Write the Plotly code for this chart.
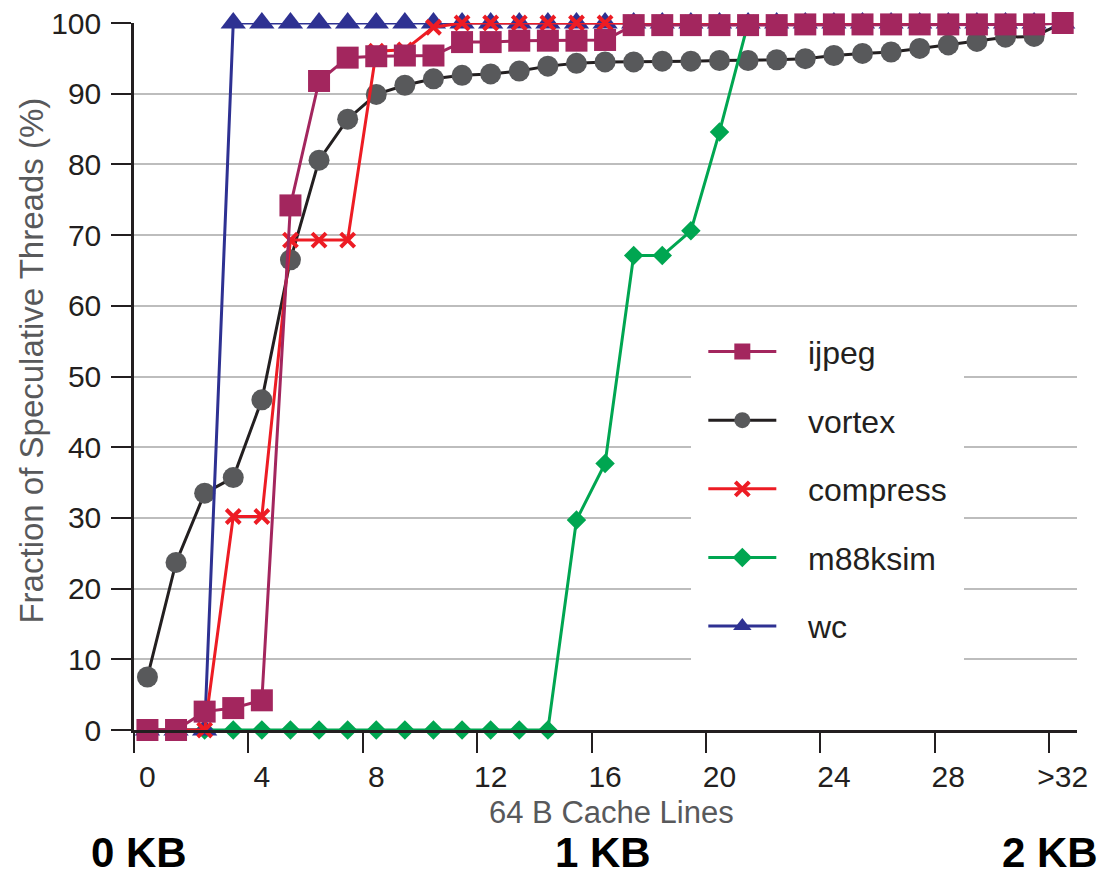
import plotly.graph_objects as go

cache_lines = list(range(33))
tick_positions = [0, 4, 8, 12, 16, 20, 24, 28, 32]
tick_labels = ["0", "4", "8", "12", "16", "20", "24", "28", ">32"]
boundary_ticks = [-0.47, 3.53, 7.53, 11.53, 15.53, 19.53, 23.53, 27.53, 31.53]

ijpeg = [0, 0, 2.6, 3.1, 4.2, 74.2, 91.8, 95.1, 95.3, 95.4, 95.4, 97.3, 97.3,
         97.5, 97.5, 97.5, 97.6, 99.7, 99.7, 99.7, 99.7, 99.7, 99.7, 99.8,
         99.8, 99.8, 99.8, 99.8, 99.8, 99.8, 99.8, 99.8, 100]
vortex = [7.5, 23.7, 33.5, 35.7, 46.7, 66.5, 80.6, 86.4, 89.9, 91.2, 92.1,
          92.6, 92.8, 93.2, 93.9, 94.3, 94.5, 94.5, 94.6, 94.6, 94.7, 94.7,
          94.8, 94.95, 95.4, 95.7, 95.9, 96.4, 96.9, 97.4, 98.0, 98.1, 100]
compress = [0, 0, 0, 30.2, 30.2, 69.3, 69.3, 69.3, 96.0, 96.2, 99.4, 100,
            100, 100, 100, 100, 100, 100, 100, 100, 100, 100, 100, 100, 100,
            100, 100, 100, 100, 100, 100, 100, 100]
m88ksim = [0, 0, 0, 0, 0, 0, 0, 0, 0, 0, 0, 0, 0, 0, 0, 29.7, 37.7, 67.1,
           67.1, 70.6, 84.6, 100, 100, 100, 100, 100, 100, 100, 100, 100, 100,
           100, 100]
wc = [0, 0, 0, 100, 100, 100, 100, 100, 100, 100, 100, 100, 100, 100, 100,
      100, 100, 100, 100, 100, 100, 100, 100, 100, 100, 100, 100, 100, 100,
      100, 100, 100, 100]

TXT = "#231F20"
GREY = "#58595B"
FONT = "Liberation Sans, Arial, sans-serif"
PAD = "\u00a0\u00a0\u00a0"

fig = go.Figure()

fig.add_trace(go.Scatter(
    x=cache_lines, y=vortex, name=PAD + "vortex", mode="lines+markers",
    line=dict(color=TXT, width=3),
    marker=dict(symbol="circle", size=21, color=GREY),
    cliponaxis=False, legendrank=2, legendgroup="b"))
fig.add_trace(go.Scatter(
    x=cache_lines, y=m88ksim, name=PAD + "m88ksim", mode="lines+markers",
    line=dict(color="#00A651", width=3),
    marker=dict(symbol="diamond", size=15, color="#00A651"),
    cliponaxis=False, legendrank=4, legendgroup="d"))
fig.add_trace(go.Scatter(
    x=cache_lines, y=wc, name=PAD + "wc", mode="lines+markers",
    line=dict(color="#2E3192", width=3),
    marker=dict(symbol="triangle-up", size=22, color="#2E3192"),
    cliponaxis=False, legendrank=5, legendgroup="e"))
fig.add_trace(go.Scatter(
    x=cache_lines, y=compress, name=PAD + "compress", mode="lines+markers",
    line=dict(color="#ED1C24", width=3),
    marker=dict(symbol="x-thin", size=14, color="#ED1C24",
                line=dict(color="#ED1C24", width=4)),
    cliponaxis=False, legendrank=3, legendgroup="c"))
fig.add_trace(go.Scatter(
    x=cache_lines, y=ijpeg, name=PAD + "ijpeg", mode="lines+markers",
    line=dict(color="#A3265E", width=3),
    marker=dict(symbol="square", size=22, color="#A3265E"),
    cliponaxis=False, legendrank=1, legendgroup="a"))

fig.update_layout(
    width=1112, height=878,
    margin=dict(l=133.5, r=35, t=22.7, b=147.5, autoexpand=False),
    paper_bgcolor="white", plot_bgcolor="white",
    font=dict(family=FONT, color=TXT),
    showlegend=True,
    legend=dict(x=0.591, y=0.5908, xanchor="left", yanchor="top",
                bgcolor="white", bordercolor="white", borderwidth=12,
                font=dict(size=32, color=TXT),
                traceorder="grouped", tracegroupgap=24, itemwidth=68),
    xaxis=dict(range=[-0.47, 32.5], showgrid=False, zeroline=False,
               automargin=False,
               showline=True, linecolor=TXT, linewidth=3,
               tickmode="array", tickvals=tick_positions, ticktext=tick_labels,
               ticks="outside", ticklen=18, tickcolor="rgba(0,0,0,0)",
               tickfont=dict(size=30, color=TXT),
               minor=dict(tickmode="array", tickvals=boundary_ticks,
                          ticks="outside", ticklen=20, tickwidth=2,
                          tickcolor=TXT, showgrid=False)),
    yaxis=dict(range=[0, 100], showgrid=True, gridcolor="#BDBDBD", gridwidth=1.5,
               zeroline=False, showline=True, linecolor=TXT, linewidth=2.5,
               automargin=False,
               tickmode="array", tickvals=list(range(0, 101, 10)),
               ticks="outside", ticklen=20, tickwidth=2, tickcolor=TXT,
               ticklabelstandoff=4,
               tickfont=dict(size=30, color=TXT)),
)

fig.add_annotation(text="Fraction of Speculative Threads (%)", textangle=-90,
                   xref="paper", yref="paper", x=-0.1086, y=0.522,
                   xanchor="center", yanchor="middle", showarrow=False,
                   font=dict(size=33, color=GREY))
fig.add_annotation(text="64 B Cache Lines", xref="paper", yref="paper",
                   x=0.506, y=-0.1173, xanchor="center", yanchor="middle",
                   showarrow=False, borderpad=0,
                   font=dict(size=31, color=GREY))
for label, xp in [("0 KB", 0.0058), ("1 KB", 0.4976), ("2 KB", 0.9714)]:
    fig.add_annotation(text="<b>%s</b>" % label, xref="paper", yref="paper",
                       x=xp, y=-0.2083, xanchor="center", yanchor="bottom",
                       showarrow=False, borderpad=0,
                       font=dict(size=42, color="#000000"))

fig.write_html(
    "out.html",
    config={"displayModeBar": False},
    post_script="document.body.style.margin='0px';"
                "document.body.style.overflow='hidden';")
